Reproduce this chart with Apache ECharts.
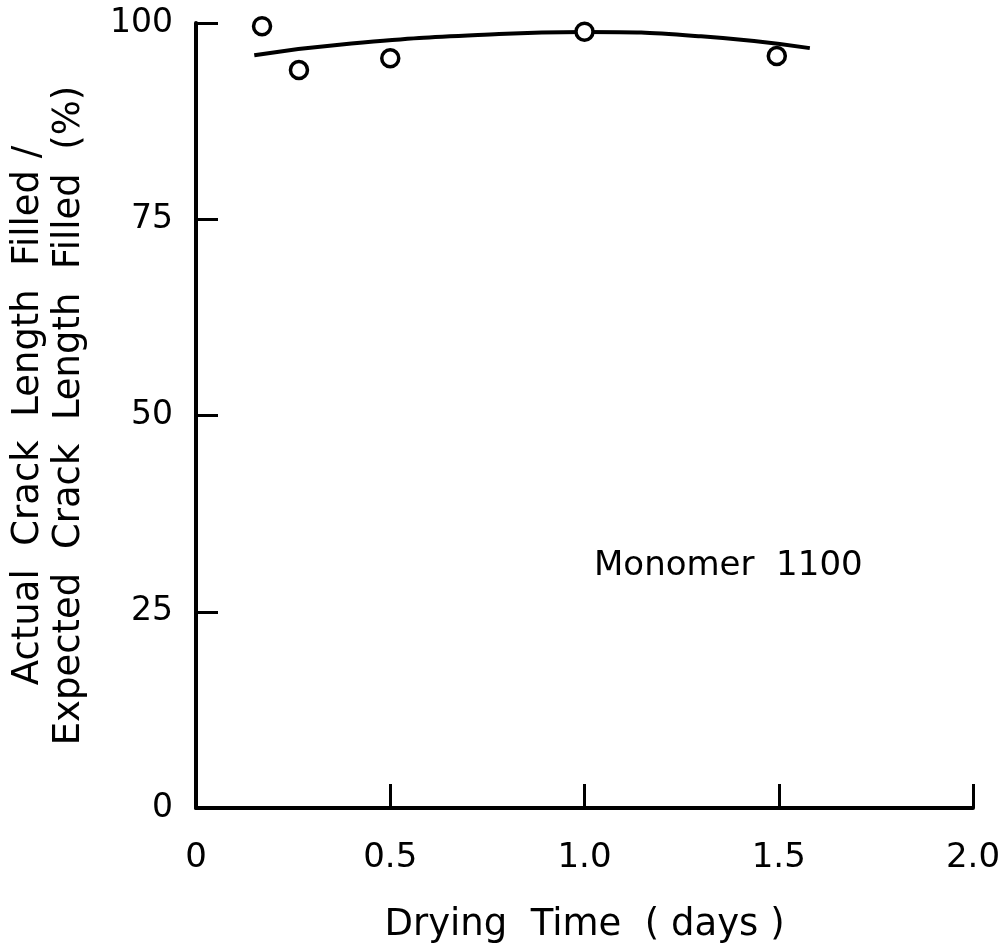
<!DOCTYPE html>
<html>
<head>
<meta charset="utf-8">
<script src="https://cdn.jsdelivr.net/npm/echarts@6/dist/echarts.min.js"></script>
<style>html,body{margin:0;padding:0;background:#fff;}#c{width:1000px;height:946px;}</style>
</head>
<body>
<div id="c"></div>
<script>
// Measured points: drying time (days) vs percent filled
const dryingTime = [0.17, 0.265, 0.5, 1.0, 1.495];
const percentFilled = [99.6, 94.0, 95.5, 98.9, 95.8];
// Hand-drawn fit curve
const fitTime = [0.15, 0.4, 0.78, 1.0, 1.3, 1.58];
const fitPercent = [95.9, 97.4, 98.6, 98.85, 98.3, 96.8];
const xTicks = [0, 0.5, 1.0, 1.5, 2.0];
const xTickLabels = ['0', '0.5', '1.0', '1.5', '2.0'];
const yTicks = [0, 25, 50, 75, 100];
const annotation = 'Monomer  1100';
const xTitle = 'Drying  Time  ( days )';
const yTitle = 'Actual  Crack  Length  Filled /\nExpected  Crack  Length  Filled  (%)';

const FONT = 'DejaVu Sans';
const chart = echarts.init(document.getElementById('c'), null, {renderer: 'canvas'});
chart.setOption({
  backgroundColor: '#fff',
  animation: false,
  grid: {left: 196, right: 27, top: 23, bottom: 138, containLabel: false, outerBoundsMode: 'none'},
  xAxis: {
    type: 'value', min: 0, max: 2, interval: 0.5,
    axisLine: {show: true, lineStyle: {color: '#000', width: 4}},
    axisTick: {show: true, inside: true, length: 24, lineStyle: {color: '#000', width: 3}},
    splitLine: {show: false},
    axisLabel: {
      color: '#000', fontFamily: FONT, fontSize: 34, margin: 33,
      formatter: v => { const i = xTicks.findIndex(t => Math.abs(t - v) < 1e-9); return i >= 0 ? xTickLabels[i] : ''; }
    },
    name: xTitle, nameLocation: 'middle', nameGap: 99,
    nameTextStyle: {color: '#000', fontFamily: FONT, fontSize: 37}
  },
  yAxis: {
    type: 'value', min: 0, max: 100, interval: 25,
    axisLine: {show: true, lineStyle: {color: '#000', width: 4}},
    axisTick: {show: true, inside: true, length: 22, lineStyle: {color: '#000', width: 3}},
    splitLine: {show: false},
    axisLabel: {color: '#000', fontFamily: FONT, fontSize: 33, margin: 23,
      formatter: v => yTicks.includes(v) ? String(v) : ''},
    name: yTitle, nameLocation: 'middle', nameGap: 106, nameRotate: 90,
    nameTextStyle: {color: '#000', fontFamily: FONT, fontSize: 37, lineHeight: 41, align: 'center'}
  },
  graphic: [{
    type: 'text', left: 594, top: 549,
    style: {text: annotation, fill: '#000', font: '34px "DejaVu Sans"'}
  }],
  series: [
    {
      type: 'line', smooth: true, showSymbol: false, symbol: 'none',
      data: fitTime.map((t, i) => [t, fitPercent[i]]),
      lineStyle: {color: '#000', width: 4}, z: 2
    },
    {
      type: 'scatter', symbol: 'circle', symbolSize: 17,
      data: dryingTime.map((t, i) => [t, percentFilled[i]]),
      itemStyle: {color: '#fff', borderColor: '#000', borderWidth: 3.5, opacity: 1}, z: 3
    }
  ]
});
</script>
</body>
</html>
